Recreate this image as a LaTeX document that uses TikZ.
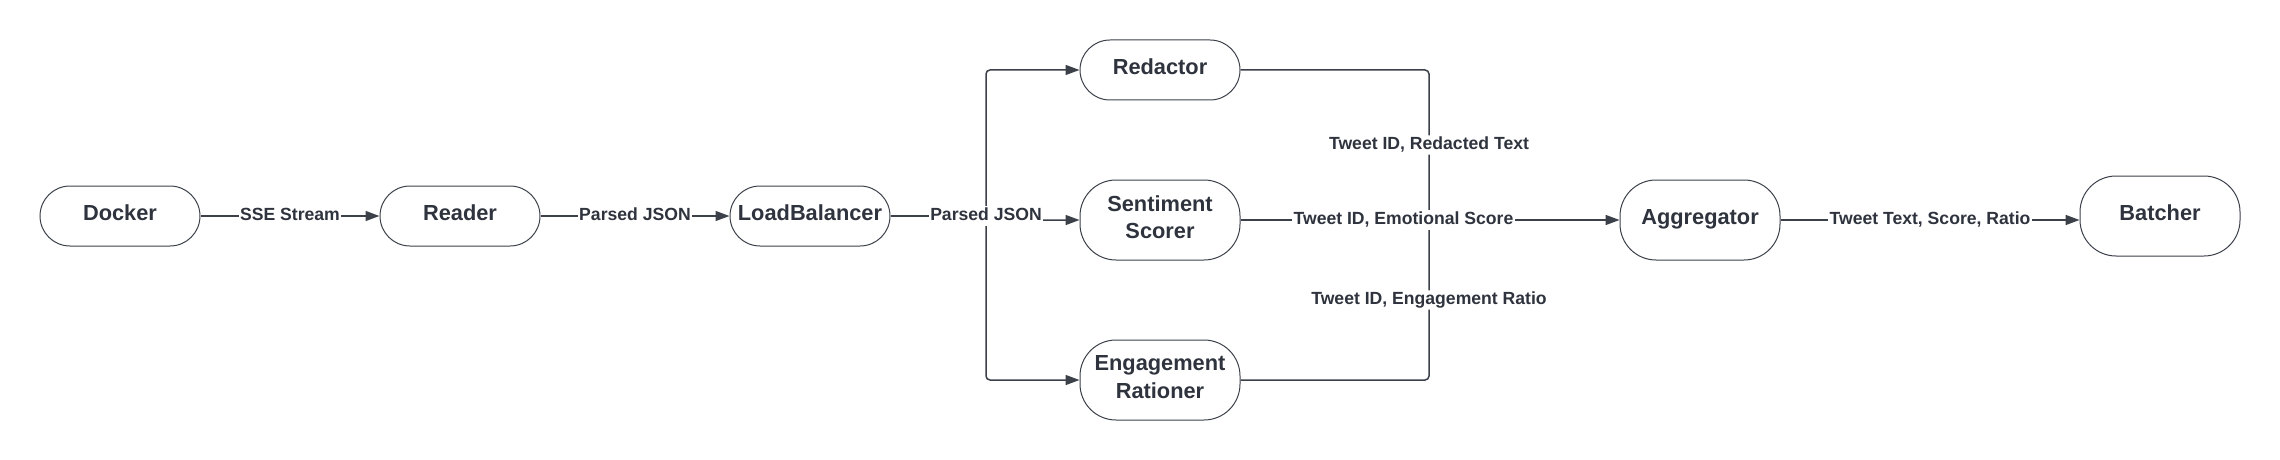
\documentclass[tikz,border=0pt]{standalone}
\usepackage{fontspec}
\setmainfont{Liberation Sans}
\usetikzlibrary{arrows.meta}
\definecolor{inkdark}{HTML}{2E333D}
\definecolor{linegray}{HTML}{3B4049}
\tikzset{
	block/.style={draw=linegray, line width=0.5pt, rounded corners=15pt, minimum width=80pt, minimum height=30pt, align=center, text=inkdark, text depth=3pt, font=\fontsize{10.9}{13.8}\selectfont\bfseries},
	tallblock/.style={block, minimum height=40pt, rounded corners=18pt},
	conn/.style={draw=linegray, line width=0.75pt},
	arr/.style={conn, -{Triangle[length=7pt,width=5pt]}},
	lbl/.style={fill=white, inner sep=0.6pt, text=inkdark, text depth=2pt, font=\fontsize{8.8}{10}\selectfont\bfseries}
}
\begin{document}
\begin{tikzpicture}[x=0.5pt,y=-0.5pt]
		\useasboundingbox (0,0) rectangle (2280,460);
		\node[block] (docker) at (120,216) {Docker};
		\node[block, right of = docker, node distance=170pt] (reader) {Reader};
		\node[block, right of = reader, node distance=175pt] (balancer) {LoadBalancer};
		\node[block] (redactor) at (1160,70) {Redactor};
		\node[tallblock] (sentiment) at (1160,220) {Sentiment\\Scorer};
		\node[tallblock] (engagement) at (1160,380) {Engagement\\Rationer};
		\node[tallblock] (aggregator) at (1700,220) {Aggregator};
		\node[tallblock] (batcher) at (2160,216) {Batcher};
		\coordinate (split) at (986,216);
		\coordinate (merge) at (1429,220);
		
		\draw[arr] (docker) -- node[lbl] {SSE Stream} (reader);
		\draw[arr] (reader) -- node[lbl] {Parsed JSON} (balancer);
		% fan out to the three workers
		\draw[arr, rounded corners=2pt] (split) |- (redactor.west);
		\draw[arr, rounded corners=2pt] (split) |- (engagement.west);
		\draw[arr, rounded corners=2pt] (split) |- (sentiment.west);
		\draw[conn] (balancer.east) -- (split) node[lbl] (splitlbl) {Parsed JSON};
		% back in to the aggregator
		\draw[conn, rounded corners=2pt] (redactor.east) -| node[lbl, pos=0.75] {Tweet ID, Redacted Text} (merge);
		\draw[conn, rounded corners=2pt] (engagement.east) -| node[lbl, pos=0.75] {Tweet ID, Engagement Ratio} (merge);
		\draw[arr] (sentiment.east) -- node[lbl, pos=0.43] {Tweet ID, Emotional Score} (aggregator.west);
		\draw[arr] (aggregator.east) -- node[lbl] {Tweet Text, Score, Ratio} (aggregator.east -| batcher.west);
		
		\end{tikzpicture}
\end{document}
